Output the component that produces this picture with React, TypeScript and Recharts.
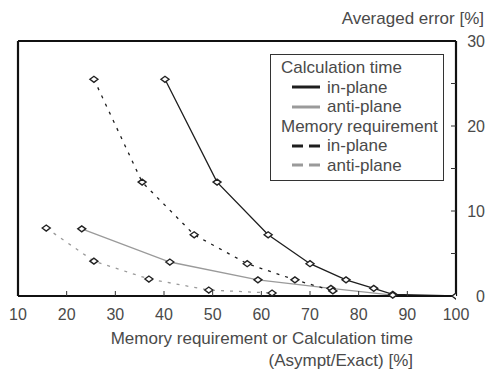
import { LineChart, Line, XAxis, YAxis } from "recharts";

// Calculation time, in-plane
const calcInX = [40.2, 50.9, 61.4, 70, 77.4, 83.1, 87, 100];
const calcInY = [25.5, 13.4, 7.2, 3.8, 1.9, 0.9, 0.2, 0];
// Calculation time, anti-plane
const calcAntiX = [23.1, 41.2, 59.3, 74.3, 87];
const calcAntiY = [7.9, 4.0, 1.9, 0.9, 0.1];
// Memory requirement, in-plane
const memInX = [25.6, 35.5, 46.2, 57.1, 66.9, 74.7];
const memInY = [25.5, 13.4, 7.2, 3.8, 1.9, 0.6];
// Memory requirement, anti-plane
const memAntiX = [15.8, 25.6, 36.9, 49.2, 62.2];
const memAntiY = [8.0, 4.1, 2.0, 0.7, 0.35];

const xTicks = [10, 20, 30, 40, 50, 60, 70, 80, 90, 100];
const yTicks = [0, 5, 10, 15, 20, 25, 30];
const yLabels = [0, 10, 20, 30];

const zip = (xs: number[], ys: number[]) => xs.map((x, i) => ({ x, y: ys[i] }));

const FONT = '"Liberation Sans", Arial, sans-serif';
const TEXT = "#4a4a4a";
const DARK = "#1e1e1e";
const GRAY = "#9a9a9a";
const TICK = 5;

const groups = [
  {
    title: "Calculation time",
    series: [
      { name: "in-plane", data: zip(calcInX, calcInY), color: DARK, dashed: false },
      { name: "anti-plane", data: zip(calcAntiX, calcAntiY), color: GRAY, dashed: false },
    ],
  },
  {
    title: "Memory requirement",
    series: [
      { name: "in-plane", data: zip(memInX, memInY), color: DARK, dashed: true },
      { name: "anti-plane", data: zip(memAntiX, memAntiY), color: GRAY, dashed: true },
    ],
  },
];

function Diamond(props: any) {
  const { cx, cy } = props;
  if (cx == null || cy == null) return null;
  return (
    <path
      d={`M${cx - 4},${cy} L${cx},${cy - 3} L${cx + 4},${cy} L${cx},${cy + 3} Z`}
      fill="#fff"
      stroke="#222"
      strokeWidth={1.4}
    />
  );
}

function BottomTick(props: any) {
  const { x, y, payload } = props;
  return (
    <g>
      {payload.value > 10 && payload.value < 100 && (
        <line x1={x} x2={x} y1={y} y2={y - TICK} stroke="#333" strokeWidth={1} />
      )}
      <text x={x} y={y + 24} textAnchor="middle" fontSize={16} fill={TEXT} fontFamily={FONT}>
        {payload.value}
      </text>
    </g>
  );
}

function TopTick(props: any) {
  const { x, y, payload } = props;
  if (payload.value <= 10 || payload.value >= 100) return null;
  return <line x1={x} x2={x} y1={y} y2={y + TICK} stroke="#333" strokeWidth={1} />;
}

function RightTick(props: any) {
  const { x, y, payload } = props;
  const v = payload.value;
  return (
    <g>
      {v > 0 && v < 30 && <line x1={x} x2={x - TICK} y1={y} y2={y} stroke="#333" strokeWidth={1} />}
      {yLabels.includes(v) && (
        <text x={x + 29} y={y + 6} textAnchor="end" fontSize={16} fill={TEXT} fontFamily={FONT}>
          {v}
        </text>
      )}
    </g>
  );
}

function LeftTick(props: any) {
  const { x, y, payload } = props;
  const v = payload.value;
  if (v <= 0 || v >= 30) return null;
  return <line x1={x} x2={x + TICK} y1={y} y2={y} stroke="#333" strokeWidth={1} />;
}

function LegendBox() {
  return (
    <div
      style={{
        position: "absolute",
        left: 270,
        top: 54,
        border: "1.5px solid #333",
        background: "#fff",
        width: 174,
        height: 127,
        boxSizing: "border-box",
        padding: "3px 0 0 10px",
        fontFamily: FONT,
        fontSize: 17,
        color: TEXT,
        lineHeight: "19.5px",
      }}
    >
      {groups.map((g) => (
        <div key={g.title}>
          <div>{g.title}</div>
          {g.series.map((s) => (
            <div key={s.name} style={{ display: "flex", alignItems: "center", height: 19.5, paddingLeft: 11 }}>
              <svg width={28} height={6} style={{ marginRight: 7 }}>
                <line
                  x1={0}
                  x2={28}
                  y1={3}
                  y2={3}
                  stroke={s.color}
                  strokeWidth={3}
                  strokeDasharray={s.dashed ? "11 6" : undefined}
                />
              </svg>
              <span>{s.name}</span>
            </div>
          ))}
        </div>
      ))}
    </div>
  );
}

export default function App() {
  return (
    <div style={{ position: "absolute", left: 0, top: 0, width: 495, height: 369, background: "#fff" }}>
      <LineChart width={495} height={369} margin={{ top: 40, right: 0, bottom: 0, left: 17 }}>
        <XAxis
          xAxisId="b"
          type="number"
          dataKey="x"
          domain={[10, 100]}
          ticks={xTicks}
          allowDataOverflow
          height={73}
          tickSize={0}
          tickMargin={0}
          tick={<BottomTick />}
          axisLine={{ stroke: "#111", strokeWidth: 2.2 }}
        />
        <XAxis
          xAxisId="t"
          orientation="top"
          type="number"
          dataKey="x"
          domain={[10, 100]}
          ticks={xTicks}
          height={1}
          tickSize={0}
          tickMargin={0}
          tick={<TopTick />}
          axisLine={{ stroke: "#111", strokeWidth: 2.2 }}
        />
        <YAxis
          yAxisId="r"
          orientation="right"
          type="number"
          domain={[0, 30]}
          ticks={yTicks}
          width={39}
          tickSize={0}
          tickMargin={0}
          tick={<RightTick />}
          axisLine={{ stroke: "#111", strokeWidth: 2.2 }}
        />
        <YAxis
          yAxisId="l"
          orientation="left"
          type="number"
          domain={[0, 30]}
          ticks={yTicks}
          width={1}
          tickSize={0}
          tickMargin={0}
          tick={<LeftTick />}
          axisLine={{ stroke: "#111", strokeWidth: 2.2 }}
        />
        {groups.flatMap((g) =>
          g.series.map((s) => (
            <Line
              key={g.title + s.name}
              xAxisId="b"
              yAxisId="r"
              name={`${g.title} ${s.name}`}
              data={s.data}
              dataKey="y"
              type="linear"
              stroke={s.color}
              strokeWidth={1.3}
              strokeDasharray={s.dashed ? "3 6" : undefined}
              dot={<Diamond />}
              isAnimationActive={false}
            />
          ))
        )}
      </LineChart>
      <LegendBox />
      <div
        style={{
          position: "absolute",
          right: 11,
          top: 9,
          fontFamily: FONT,
          fontSize: 17,
          color: TEXT,
          whiteSpace: "nowrap",
        }}
      >
        Averaged error [%]
      </div>
      <div
        style={{
          position: "absolute",
          left: 100,
          width: 313,
          top: 328,
          fontFamily: FONT,
          fontSize: 17,
          color: TEXT,
          textAlign: "right",
          lineHeight: "22px",
          whiteSpace: "nowrap",
        }}
      >
        <div>Memory requirement or Calculation time</div>
        <div>(Asympt/Exact) [%]</div>
      </div>
    </div>
  );
}
